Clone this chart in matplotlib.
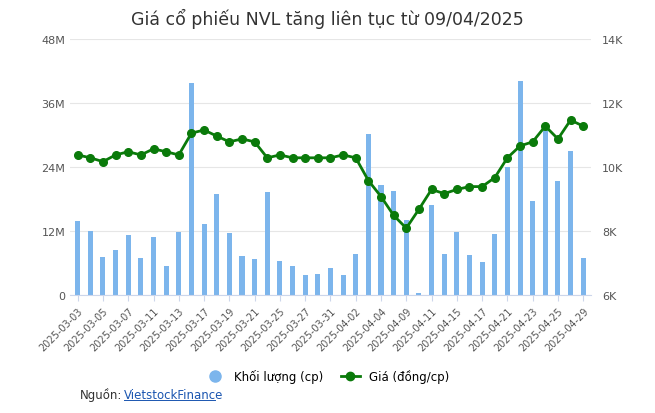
import matplotlib
matplotlib.use('Agg')
import matplotlib.pyplot as plt
from matplotlib.lines import Line2D

dates = ['2025-03-03', '2025-03-04', '2025-03-05', '2025-03-06', '2025-03-07',
         '2025-03-10', '2025-03-11', '2025-03-12', '2025-03-13', '2025-03-14',
         '2025-03-17', '2025-03-18', '2025-03-19', '2025-03-20', '2025-03-21',
         '2025-03-24', '2025-03-25', '2025-03-26', '2025-03-27', '2025-03-28',
         '2025-03-31', '2025-04-01', '2025-04-02', '2025-04-03', '2025-04-04',
         '2025-04-08', '2025-04-09', '2025-04-10', '2025-04-11', '2025-04-14',
         '2025-04-15', '2025-04-16', '2025-04-17', '2025-04-18', '2025-04-21',
         '2025-04-22', '2025-04-23', '2025-04-24', '2025-04-25', '2025-04-28',
         '2025-04-29']

# volume, millions of shares
volume = [13.8, 12.0, 7.2, 8.4, 11.2, 6.9, 10.9, 5.5, 11.8, 39.7,
          13.3, 18.9, 11.6, 7.3, 6.8, 19.4, 6.4, 5.5, 3.8, 4.0,
          5.1, 3.8, 7.7, 30.2, 20.7, 19.6, 14.0, 0.4, 16.8, 7.7,
          11.8, 7.5, 6.2, 11.4, 24.1, 40.1, 17.6, 31.1, 21.3, 27.0,
          6.9]

# price, thousand VND
price = [10.38, 10.29, 10.17, 10.38, 10.48, 10.38, 10.57, 10.48, 10.38, 11.06,
         11.16, 10.97, 10.79, 10.88, 10.79, 10.29, 10.38, 10.29, 10.29, 10.29,
         10.29, 10.38, 10.29, 9.58, 9.08, 8.49, 8.09, 8.68, 9.30, 9.17,
         9.30, 9.39, 9.39, 9.67, 10.29, 10.66, 10.79, 11.28, 10.88, 11.47,
         11.28]

bar_color = '#7cb5ec'
line_color = '#0a7a0a'
text_color = '#555555'

fig = plt.figure(figsize=(6.55, 4.14), dpi=100)
ax = fig.add_axes([0.107, 0.285, 0.795, 0.618])
x = list(range(len(dates)))
ax.bar(x, volume, width=0.4, color=bar_color, zorder=2)
ax.set_ylim(0, 48)
ax.set_yticks([0, 12, 24, 36, 48])
ax.set_yticklabels(['0', '12M', '24M', '36M', '48M'])
ax.set_xlim(-0.6, len(dates) - 0.4)
ax.set_xticks(x[::2])
ax.set_xticklabels(dates[::2], rotation=45, ha='right', rotation_mode='anchor')
ax.grid(axis='y', color='#e6e6e6', linewidth=0.8, zorder=0)
for s in ['top', 'right', 'left']:
    ax.spines[s].set_visible(False)
ax.spines['bottom'].set_color('#ccd6eb')
ax.tick_params(axis='y', length=0, labelsize=8, colors=text_color)
ax.tick_params(axis='x', length=4, color='#ccd6eb', labelsize=7, colors=text_color)

ax2 = ax.twinx()
ax2.plot(x, price, '-o', color=line_color, linewidth=2, markersize=5.5, zorder=3)
ax2.set_ylim(6, 14)
ax2.set_yticks([6, 8, 10, 12, 14])
ax2.set_yticklabels(['6K', '8K', '10K', '12K', '14K'])
for s in ['top', 'right', 'left', 'bottom']:
    ax2.spines[s].set_visible(False)
ax2.tick_params(axis='y', length=0, labelsize=8, colors=text_color, pad=8)

fig.text(0.5, 0.955, 'Giá cổ phiếu NVL tăng liên tục từ 09/04/2025',
         ha='center', va='center', fontsize=12.5, color='#333333')

handles = [Line2D([], [], marker='o', linestyle='', color=bar_color, markersize=8),
           Line2D([], [], marker='o', color=line_color, linewidth=2, markersize=6)]
fig.legend(handles, ['Khối lượng (cp)', 'Giá (đồng/cp)'], loc='center',
           bbox_to_anchor=(0.5, 0.09), ncol=2, frameon=False, fontsize=8.5,
           handlelength=1.6, columnspacing=1.5)

fig.text(0.122, 0.045, 'Nguồn:', fontsize=8.5, color='#333333', va='center')
fig.text(0.189, 0.045, 'VietstockFinance', fontsize=8.5, color='#1a55b0',
         va='center').set_url('https://finance.vietstock.vn')
fig.add_artist(Line2D([0.189, 0.328], [0.031, 0.031], color='#1a55b0', linewidth=0.7))

fig.savefig('out.png', dpi=100)
